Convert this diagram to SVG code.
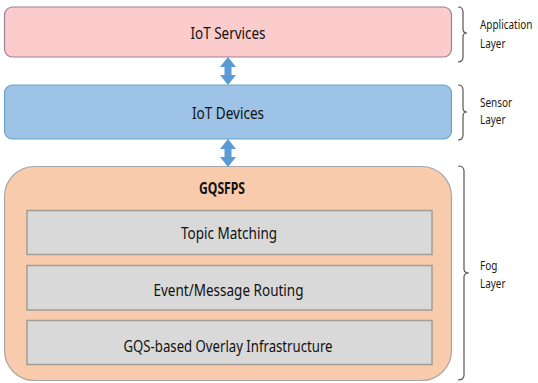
<svg xmlns="http://www.w3.org/2000/svg" width="538" height="383" viewBox="0 0 538 383">
<style>
.t{font-family:"Noto Sans","Open Sans","Liberation Sans",sans-serif;font-size:16px;fill:#111;text-anchor:middle}
.b{font-weight:bold}
.s{font-family:"Noto Sans","Open Sans","Liberation Sans",sans-serif;font-size:12px;fill:#1a1a1a}
.br{fill:none;stroke:#555;stroke-width:1.2}
.layer{stroke-width:1.2}
.gray{fill:#d9d9d9;stroke:#a39d95;stroke-width:1.5}
.arr{fill:#5b9bd5}
</style>
<rect width="538" height="383" fill="#fff"/>
<g id="iot-services">
<rect class="layer" x="4.5" y="7" width="447" height="50" rx="8" fill="#fccbcb" stroke="#9b8096"/>
<text class="t" x="228" y="39" textLength="75" lengthAdjust="spacingAndGlyphs">IoT Services</text>
</g>
<g id="iot-devices">
<rect class="layer" x="4.5" y="85" width="447" height="54" rx="8" fill="#9dc3e6" stroke="#6aa3c4"/>
<text class="t" x="228" y="119" textLength="72" lengthAdjust="spacingAndGlyphs">IoT Devices</text>
</g>
<g id="gqsfps">
<rect class="layer" x="4.5" y="166.5" width="447" height="214" rx="30" fill="#f8cbad" stroke="#a6a6a6"/>
<text class="t b" x="222" y="194" textLength="46" lengthAdjust="spacingAndGlyphs">GQSFPS</text>
</g>
<g id="topic-matching">
<rect class="gray" x="27" y="210.5" width="405" height="44"/>
<text class="t" x="229" y="239" textLength="96" lengthAdjust="spacingAndGlyphs">Topic Matching</text>
</g>
<g id="event-routing">
<rect class="gray" x="27" y="265.5" width="405" height="44.5"/>
<text class="t" x="228.5" y="295.5" textLength="150" lengthAdjust="spacingAndGlyphs">Event/Message Routing</text>
</g>
<g id="overlay">
<rect class="gray" x="27" y="320.5" width="405" height="44"/>
<text class="t" x="228" y="351.5" textLength="209" lengthAdjust="spacingAndGlyphs">GQS-based Overlay Infrastructure</text>
</g>
<g id="connectors">
<path class="arr" d="M228,57 L236,67 L231.5,67 L231.5,75 L236,75 L228,85 L220,75 L224.5,75 L224.5,67 L220,67 Z"/>
<path class="arr" d="M228,139 L236,149 L231.5,149 L231.5,157 L236,157 L228,167 L220,157 L224.5,157 L224.5,149 L220,149 Z"/>
</g>
<g id="application-layer">
<path class="br" d="M458,7 Q463,7 463,12 V29 Q463,33 467,33 Q463,33 463,37 V57 Q463,62 458,62"/>
<text class="s" transform="translate(480,29) scale(0.83,1)">Application</text>
<text class="s" transform="translate(480,47.5) scale(0.83,1)">Layer</text>
</g>
<g id="sensor-layer">
<path class="br" d="M458,85 Q463,85 463,90 V108 Q463,112 467,112 Q463,112 463,116 V135 Q463,140 458,140"/>
<text class="s" transform="translate(480,106.5) scale(0.83,1)">Sensor</text>
<text class="s" transform="translate(480,124) scale(0.83,1)">Layer</text>
</g>
<g id="fog-layer">
<path class="br" d="M458,166 Q464,166 464,171 V269 Q464,273 469,273 Q464,273 464,277 V375 Q464,380 458,380"/>
<text class="s" transform="translate(480,270) scale(0.83,1)">Fog</text>
<text class="s" transform="translate(480,287.5) scale(0.83,1)">Layer</text>
</g>
</svg>
